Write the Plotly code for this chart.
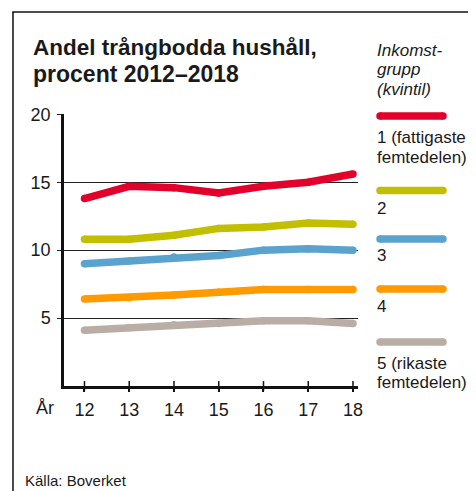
import plotly.graph_objects as go

years = [12, 13, 14, 15, 16, 17, 18]
q1 = [13.8, 14.7, 14.6, 14.2, 14.7, 15.0, 15.6]
q2 = [10.8, 10.8, 11.1, 11.6, 11.7, 12.0, 11.9]
q3 = [9.0, 9.2, 9.5, 9.6, 10.0, 10.1, 10.0]
q4 = [6.4, 6.5, 6.7, 6.9, 7.1, 7.1, 7.1]
q5 = [4.1, 4.3, 4.5, 4.6, 4.8, 4.8, 4.6]
series_names = ["1 (fattigaste<br>femtedelen)", "2", "3", "4", "5 (rikaste<br>femtedelen)"]
colors = ["#E3002B", "#C2BE00", "#5BA3CF", "#FF9A00", "#B9ADA5"]
yticks = [5, 10, 15, 20]

# page body has an 8px margin; work in window pixels and shift
OFF = 8
W, H = 476 - OFF, 491 - OFF
L, R, T, B = 64, 358, 114, 386
FONT = "Liberation Sans, Arial, sans-serif"


def px(x):
    return (x - L) / (R - L)


def py(y):
    return (B - y) / (B - T)


fig = go.Figure()
for vals, name, c in zip([q1, q2, q3, q4, q5], series_names, colors):
    fig.add_trace(go.Scatter(x=years, y=vals, mode="lines+markers", name=name,
                             line=dict(color=c, width=7.5),
                             marker=dict(color=c, size=7.5, line=dict(width=0)),
                             showlegend=False, hoverinfo="skip"))

# crossing ticks on x axis
fig.add_trace(go.Scatter(x=years, y=[0] * len(years), mode="markers",
                         marker=dict(symbol="line-ns", size=7,
                                     line=dict(color="#111", width=1.5)),
                         cliponaxis=False, showlegend=False, hoverinfo="skip"))

shapes = []
# frame
shapes.append(dict(type="line", xref="paper", yref="paper",
                   x0=px(13), x1=px(13), y0=py(12), y1=py(500),
                   line=dict(color="#111", width=1.5)))
shapes.append(dict(type="line", xref="paper", yref="paper",
                   x0=px(12.3), x1=px(480), y0=py(12), y1=py(12),
                   line=dict(color="#111", width=1.5)))

annotations = []


def ann(text, x, y, size, **kw):
    annotations.append(dict(text=text, x=px(x), y=py(y), xref="paper", yref="paper",
                            xanchor="left", yanchor="middle", showarrow=False,
                            align="left", font=dict(family=FONT, size=size, color="#1a1a1a", **kw)))


ann("<b>Andel trångbodda hushåll,</b>", 31, 47, 22.5)
ann("<b>procent 2012–2018</b>", 31, 74.5, 23)
ann("<i>Inkomst-</i>", 375, 51, 17)
ann("<i>grupp</i>", 375, 70, 17)
ann("<i>(kvintil)</i>", 375, 89, 17)

sw_y = [116, 190.5, 239, 289, 342]
label_lines = [[("1 (fattigaste", 137), ("femtedelen)", 157)],
               [("2", 208)], [("3", 256)], [("4", 306)],
               [("5 (rikaste", 363), ("femtedelen)", 382)]]
for y, c, lines in zip(sw_y, colors, label_lines):
    shapes.append(dict(type="line", xref="paper", yref="paper",
                       x0=px(380), x1=px(443), y0=py(y), y1=py(y),
                       line=dict(color=c, width=7.5)))
    for cx in (380, 443):
        shapes.append(dict(type="circle", xref="paper", yref="paper",
                           x0=px(cx - 3.75), x1=px(cx + 3.75), y0=py(y + 3.75), y1=py(y - 3.75),
                           fillcolor=c, line=dict(width=0)))
    for t, ty in lines:
        ann(t, 375, ty, 17)

ann("År", 34, 408, 18)
ann("Källa: Boverket", 23, 480, 15)

fig.update_layout(
    width=W, height=H,
    margin=dict(l=L - OFF, r=476 - R, t=T - OFF, b=491 - B, pad=0),
    paper_bgcolor="white", plot_bgcolor="white",
    shapes=shapes, annotations=annotations,
    xaxis=dict(range=[11.542, 18.112], tickvals=years, ticktext=[str(v) for v in years],
               showgrid=False, zeroline=False, showline=True, linecolor="#111", linewidth=2.5,
               ticks="outside", ticklen=3, tickwidth=1.5, tickcolor="#111",
               ticklabelstandoff=3,
               tickfont=dict(family=FONT, size=18, color="#1a1a1a")),
    yaxis=dict(range=[0, 20.02], tickvals=yticks, showgrid=True, gridcolor="#222", gridwidth=1,
               zeroline=False, showline=True, linecolor="#111", linewidth=2.5,
               ticks="outside", ticklen=4, tickwidth=1, tickcolor="#222",
               ticklabelstandoff=3,
               tickfont=dict(family=FONT, size=18, color="#1a1a1a")),
    showlegend=False,
)

fig.write_html("out.html")
